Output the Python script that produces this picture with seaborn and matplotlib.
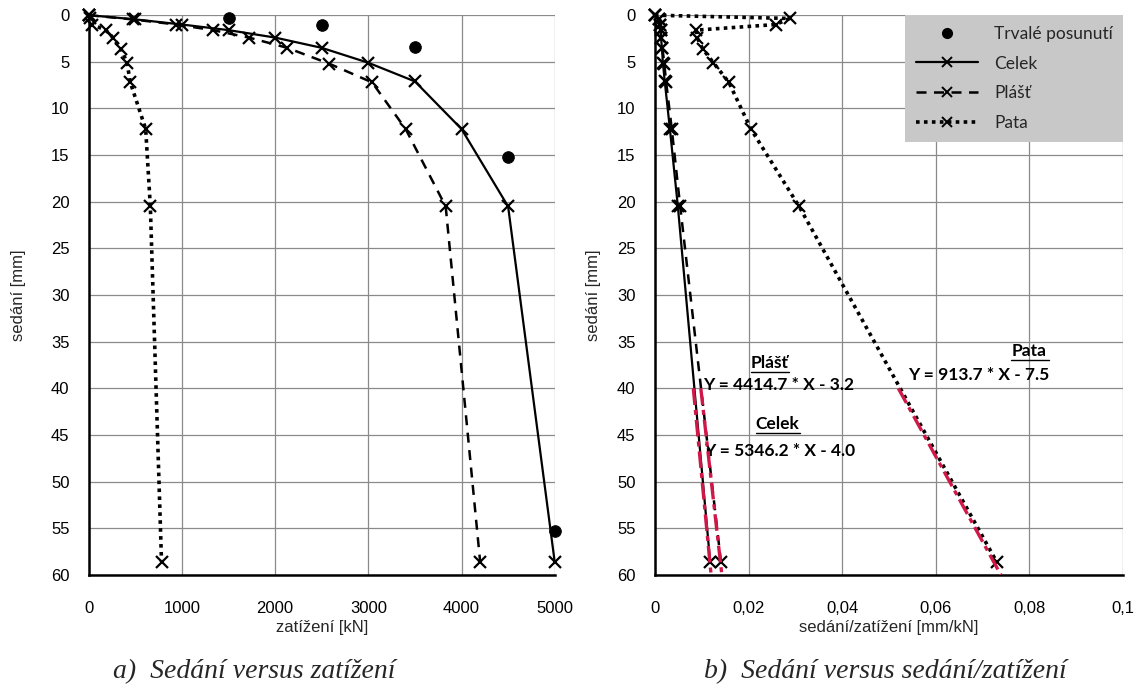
import numpy as np
import pandas as pd
import matplotlib
matplotlib.use("Agg")
import matplotlib.pyplot as plt
import seaborn as sns
from matplotlib.lines import Line2D
from matplotlib.ticker import MultipleLocator, FuncFormatter

# data
celek_F = [0, 500, 1000, 1500, 2000, 2500, 3000, 3500, 4000, 4500, 5000]
celek_s = [0, 0.45, 1.0, 1.6, 2.4, 3.5, 5.1, 7.1, 12.2, 20.5, 58.6]
plast_F = [0, 470, 940, 1330, 1720, 2130, 2580, 3040, 3400, 3830, 4200]
plast_s = [0, 0.45, 1.0, 1.6, 2.4, 3.5, 5.2, 7.2, 12.2, 20.5, 58.6]
pata_F = [0, 12, 38, 180, 260, 345, 410, 445, 610, 660, 780]
pata_s = [0, 0.35, 1.0, 1.6, 2.4, 3.6, 5.1, 7.2, 12.2, 20.5, 58.6]
trvale_F = [1500, 2500, 3500, 4500, 5000]
trvale_s = [0.3, 1.1, 3.4, 15.2, 55.3]

celek_r = [0, 0.0008, 0.0010, 0.0012, 0.0013, 0.0015, 0.0017, 0.0021, 0.0032, 0.0049, 0.0118]
plast_r = [0, 0.0009, 0.0011, 0.0012, 0.0014, 0.0016, 0.0020, 0.0024, 0.0036, 0.0054, 0.0141]
pata_r = [0, 0.0288, 0.0258, 0.0088, 0.0090, 0.0102, 0.0125, 0.0158, 0.0205, 0.0308, 0.0730]

fit_y = [40, 60]
celek_fit_x = [0.0082, 0.0120]
plast_fit_x = [0.0098, 0.0143]
pata_fit_x = [0.0520, 0.0739]

sns.set_style("white")
plt.rcParams['font.family'] = ['Liberation Sans Narrow', 'Liberation Sans', 'DejaVu Sans']

fig = plt.figure(figsize=(11.39, 6.91), dpi=100)
ax1 = fig.add_axes([0.078, 0.168, 0.409, 0.810])
ax2 = fig.add_axes([0.575, 0.168, 0.411, 0.810])

styles = {
    'Celek': dict(linestyle='-', linewidth=1.6),
    'Plášť': dict(linestyle=(0, (4, 3)), linewidth=1.8),
    'Pata': dict(linestyle=(0, (1, 1.2)), linewidth=2.6),
}
mk = dict(marker='x', markersize=9, markeredgewidth=1.6, color='black',
          markeredgecolor='black', markerfacecolor='black', clip_on=False)

left = {'Celek': (celek_F, celek_s), 'Plášť': (plast_F, plast_s), 'Pata': (pata_F, pata_s)}
right = {'Celek': (celek_r, celek_s), 'Plášť': (plast_r, plast_s), 'Pata': (pata_r, pata_s)}

for name, (x, y) in left.items():
    sns.lineplot(x=x, y=y, sort=False, estimator=None, ax=ax1, **styles[name], **mk)
sns.scatterplot(x=trvale_F, y=trvale_s, ax=ax1, color='black', s=70, edgecolor='black',
                zorder=5, clip_on=False)

for name, (x, y) in right.items():
    sns.lineplot(x=x, y=y, sort=False, estimator=None, ax=ax2, **styles[name], **mk)
for fx in (celek_fit_x, plast_fit_x, pata_fit_x):
    sns.lineplot(x=fx, y=fit_y, sort=False, estimator=None, ax=ax2,
                 color='#d01848', linewidth=2.4, linestyle=(0, (5, 1.5, 1.5, 1.5)), zorder=4)

for ax, xmax in ((ax1, 5000), (ax2, 0.1)):
    ax.set_ylim(60, 0)
    ax.set_xlim(0, xmax)
    ax.yaxis.set_major_locator(MultipleLocator(5))
    ax.yaxis.set_minor_locator(MultipleLocator(2.5))
    ax.grid(True, which='major', color='#8a8a8a', linewidth=0.9)
    for sp in ('top', 'right'):
        ax.spines[sp].set_visible(False)
    for sp in ('left', 'bottom'):
        ax.spines[sp].set_linewidth(1.8)
        ax.spines[sp].set_color('black')
    ax.tick_params(which='major', direction='out', length=10, width=1.3, labelsize=12, pad=9, colors='black')
    ax.tick_params(which='minor', direction='out', length=6, width=1.3)
    ax.tick_params(axis='y', which='major', pad=4)
    ax.set_ylabel('sedání [mm]', fontsize=12)

ax1.xaxis.set_major_locator(MultipleLocator(1000))
ax1.xaxis.set_minor_locator(MultipleLocator(500))
ax2.xaxis.set_major_locator(MultipleLocator(0.02))
ax2.xaxis.set_minor_locator(MultipleLocator(0.01))
ax2.xaxis.set_major_formatter(FuncFormatter(lambda v, p: ('%g' % round(v, 3)).replace('.', ',')))
ax1.set_xlabel('zatížení [kN]', fontsize=12, labelpad=3)
ax2.set_xlabel('sedání/zatížení [mm/kN]', fontsize=12, labelpad=3)
ax1.yaxis.set_label_coords(-0.135, 0.5)
ax2.yaxis.set_label_coords(-0.115, 0.5)

# equations
tf = dict(family=['Lato', 'DejaVu Sans'], fontweight='bold', fontsize=12.5, color='black')
ax2.text(0.0245, 37.3, 'Plášť', ha='center', va='center', **tf)
ax2.text(0.0103, 39.6, 'Y = 4414.7 * X - 3.2', ha='left', va='center', **tf)
ax2.text(0.0800, 36.0, 'Pata', ha='center', va='center', **tf)
ax2.text(0.0540, 38.6, 'Y = 913.7 * X - 7.5', ha='left', va='center', **tf)
ax2.text(0.0262, 43.8, 'Celek', ha='center', va='center', **tf)
ax2.text(0.0105, 46.7, 'Y = 5346.2 * X - 4.0', ha='left', va='center', **tf)
for x0, x1, y in ((0.0205, 0.0287, 38.3), (0.0760, 0.0841, 37.0), (0.0215, 0.0310, 44.8)):
    ax2.plot([x0, x1], [y, y], color='black', linewidth=1.0)

handles = [
    Line2D([], [], linestyle='none', marker='o', color='black', markersize=7),
    Line2D([], [], color='black', **styles['Celek'], marker='x', markersize=7, markeredgewidth=1.4),
    Line2D([], [], color='black', **styles['Plášť'], marker='x', markersize=7, markeredgewidth=1.4),
    Line2D([], [], color='black', **styles['Pata'], marker='x', markersize=7, markeredgewidth=1.4),
]
leg = ax2.legend(handles, ['Trvalé posunutí', 'Celek', 'Plášť', 'Pata'], loc='upper right',
                 bbox_to_anchor=(1.0, 1.0), borderaxespad=0, frameon=True, fancybox=False,
                 facecolor='#c8c8c8', edgecolor='none', framealpha=1, handlelength=3.6,
                 labelspacing=0.8, borderpad=0.6, handletextpad=0.9,
                 prop={'family': ['Lato', 'DejaVu Sans'], 'size': 12.5})
leg.set_zorder(10)

cap = dict(family=['Liberation Serif', 'DejaVu Serif'], style='italic', fontsize=20, va='center')
fig.text(0.099, 0.028, 'a)  Sedání versus zatížení', ha='left', **cap)
fig.text(0.618, 0.028, 'b)  Sedání versus sedání/zatížení', ha='left', **cap)

plt.savefig("out.png", dpi=100, facecolor='white')
